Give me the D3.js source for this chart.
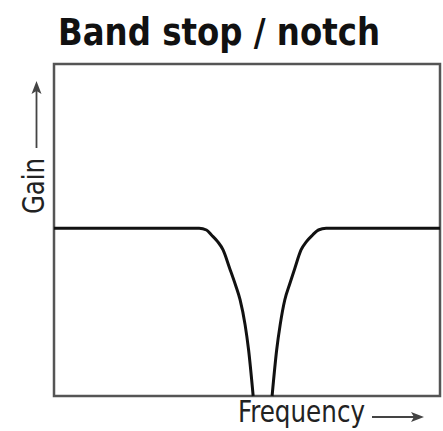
<!DOCTYPE html>
<html>
<head>
<meta charset="utf-8">
<script src="https://cdn.jsdelivr.net/npm/d3@7"></script>
<style>
  html, body { margin: 0; padding: 0; background: #fff; }
  svg { display: block; }
</style>
</head>
<body>
<div id="chart"></div>
<script>
// notch response (frequency 0..10, gain 0..2)
const leftFreq  = [0, 3.76, 3.95, 4.08, 4.24, 4.38, 4.55, 4.70, 4.82, 4.95, 5.04, 5.16];
const leftGain  = [1.01, 1.01, 1.00, 0.97, 0.93, 0.88, 0.77, 0.67, 0.58, 0.43, 0.28, 0];
const rightFreq = [5.65, 5.77, 5.86, 5.98, 6.10, 6.24, 6.40, 6.54, 6.70, 6.85, 7.05, 10];
const rightGain = [0, 0.28, 0.43, 0.58, 0.67, 0.77, 0.88, 0.93, 0.97, 1.00, 1.01, 1.01];

const title = 'Band stop / notch';
const xLabel = 'Frequency';
const yLabel = 'Gain';

const W = 443, H = 431;
const box = { left: 54, top: 64, right: 440, bottom: 396 };

const svg = d3.select('#chart').append('svg')
  .attr('width', W)
  .attr('height', H);

const x = d3.scaleLinear().domain([0, 10]).range([box.left, box.right]);
const y = d3.scaleLinear().domain([0, 2]).range([box.bottom, box.top]);

const line = d3.line()
  .x(d => x(d[0]))
  .y(d => y(d[1]))
  .curve(d3.curveMonotoneX);

// frame
svg.append('rect')
  .attr('x', box.left)
  .attr('y', box.top)
  .attr('width', box.right - box.left)
  .attr('height', box.bottom - box.top)
  .attr('fill', 'none')
  .attr('stroke', '#555')
  .attr('stroke-width', 2.5);

[[leftFreq, leftGain], [rightFreq, rightGain]].forEach(([fs, gs]) => {
  svg.append('path')
    .datum(fs.map((f, i) => [f, gs[i]]))
    .attr('d', line)
    .attr('fill', 'none')
    .attr('stroke', '#111')
    .attr('stroke-width', 3)
    .attr('stroke-linejoin', 'round');
});

const font = '"Liberation Sans Narrow", "DejaVu Sans Condensed", "Roboto", sans-serif';

svg.append('text')
  .attr('x', 58)
  .attr('y', 45)
  .attr('font-family', font)
  .attr('font-weight', 'bold')
  .attr('font-size', 37)
  .attr('textLength', 322)
  .attr('lengthAdjust', 'spacingAndGlyphs')
  .attr('fill', '#111')
  .text(title);

// y label + arrow
svg.append('text')
  .attr('transform', 'translate(44,214) rotate(-90)')
  .attr('font-family', font)
  .attr('font-size', 30)
  .attr('textLength', 56)
  .attr('lengthAdjust', 'spacingAndGlyphs')
  .attr('fill', '#222')
  .text(yLabel);

svg.append('line')
  .attr('x1', 36.5).attr('y1', 148)
  .attr('x2', 36.5).attr('y2', 90)
  .attr('stroke', '#444').attr('stroke-width', 1.8);
svg.append('path')
  .attr('d', 'M36.5,81 L31.5,94 L36.5,91 L41.5,94 Z')
  .attr('fill', '#444');

// x label + arrow
svg.append('text')
  .attr('x', 238)
  .attr('y', 422)
  .attr('font-family', font)
  .attr('font-size', 31)
  .attr('textLength', 127)
  .attr('lengthAdjust', 'spacingAndGlyphs')
  .attr('fill', '#222')
  .text(xLabel);

svg.append('line')
  .attr('x1', 372).attr('y1', 417)
  .attr('x2', 416).attr('y2', 417)
  .attr('stroke', '#444').attr('stroke-width', 1.8);
svg.append('path')
  .attr('d', 'M424,417 L411,412 L414,417 L411,422 Z')
  .attr('fill', '#444');
</script>
</body>
</html>
